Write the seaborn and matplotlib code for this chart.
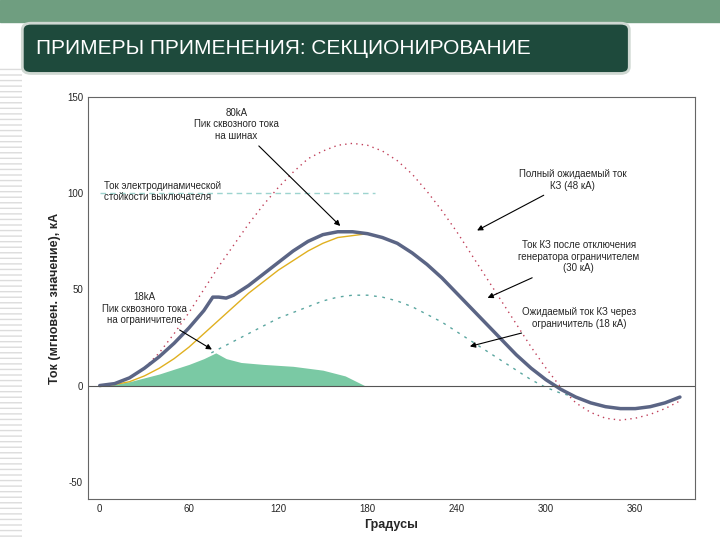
import numpy as np
import pandas as pd
import matplotlib.pyplot as plt
import seaborn as sns
from matplotlib.patches import FancyBboxPatch, Rectangle

# ---- data (degrees / kA) ----
deg = list(range(0, 400, 10))
full_prosp = [0, 1, 4, 9, 17, 27, 38, 50, 62, 73, 84, 94, 103, 111, 118, 122, 125, 126, 125, 122,
              117, 110, 101, 91, 80, 68, 56, 44, 32, 20, 9, -1, -9, -14, -17, -18, -17, -15, -12, -8]
lim_deg = [0, 10, 20, 30, 40, 50, 60, 70, 76, 80, 85, 90, 100, 110, 120, 130, 140, 150, 160, 170,
           180, 190, 200, 210, 220, 230, 240, 250, 260, 270, 280, 290, 300, 310, 320, 330, 340,
           350, 360, 370, 380, 390]
limited = [0, 1, 4, 9, 15, 22, 30, 39, 46, 46, 45.5, 47, 52, 58, 64, 70, 75, 78.5, 80, 80,
           79, 77, 74, 69, 63, 56, 48, 40, 32, 24, 16, 9, 3, -2, -6, -9, -11, -12, -12, -11, -9, -6]
yellow_deg = list(range(0, 190, 10))
yellow = [0, 0.5, 2, 5, 9, 14, 20, 27, 34, 41, 48, 54, 60, 65, 70, 74, 77, 78, 79]
teal_deg = [75, 90, 100, 110, 120, 130, 140, 150, 160, 170, 180, 190, 200, 210, 220, 230, 240,
            250, 260, 270, 280, 290, 300, 310, 320]
teal = [17, 23, 27, 31, 35, 38, 41, 44, 46, 47, 47, 46, 44, 41, 37, 33, 28, 23, 18, 13, 8, 3, -1, -4, -6]
green_deg = [5, 20, 40, 60, 70, 78, 85, 95, 110, 130, 150, 165, 178]
green = [0, 2, 6, 11, 14, 17, 14, 12, 11, 10, 8, 5, 0]
withstand = 100

sns.set_style("white")
plt.rcParams['font.family'] = ['Liberation Sans', 'DejaVu Sans']
plt.rcParams['axes.unicode_minus'] = False

fig = plt.figure(figsize=(7.2, 5.4), dpi=100)

# slide decoration
fig.patches.append(Rectangle((0, 0.96), 1, 0.04, transform=fig.transFigure, color='#6f9e80', zorder=0))
fig.patches.append(Rectangle((0, 0), 0.03, 0.88, transform=fig.transFigure, facecolor='white',
                             edgecolor='#dcdcdc', hatch='---', lw=0, zorder=0))
fig.patches.append(FancyBboxPatch((0.035, 0.868), 0.835, 0.085, boxstyle='round,pad=0.004,rounding_size=0.012',
                                  transform=fig.transFigure, facecolor='#1e4a3c', edgecolor='#cfd8d2',
                                  lw=2, zorder=1))
fig.text(0.05, 0.91, 'ПРИМЕРЫ ПРИМЕНЕНИЯ: СЕКЦИОНИРОВАНИЕ', color='white', fontsize=15,
         va='center', ha='left', zorder=2)

ax = fig.add_axes([0.122, 0.076, 0.843, 0.744])
ax.fill_between(green_deg, green, 0, color='#6cc39a', alpha=0.9, lw=0)
sns.lineplot(x=deg, y=full_prosp, ax=ax, color='#c0405a', lw=1, linestyle=(0, (1, 3)))
sns.lineplot(x=teal_deg, y=teal, ax=ax, color='#5aa6a0', lw=1, linestyle=(0, (2, 4)))
sns.lineplot(x=yellow_deg, y=yellow, ax=ax, color='#e0b020', lw=1)
sns.lineplot(x=lim_deg, y=limited, ax=ax, color='#5b6585', lw=2.5)
ax.plot([0, 185], [withstand, withstand], color='#9dd4cf', lw=1, ls=(0, (4, 3)))
ax.axhline(0, color='#555555', lw=0.8)

ax.set_xlim(-8, 400)
ax.set_ylim(-59, 150)
ax.set_xticks(range(0, 400, 60))
ax.set_yticks([-50, 0, 50, 100, 150])
ax.tick_params(labelsize=7, length=0)
ax.set_xlabel('Градусы', fontsize=9, fontweight='bold')
ax.set_ylabel('Ток (мгновен. значение), кА', fontsize=9, fontweight='bold')
for s in ax.spines.values():
    s.set_color('#666666')
    s.set_linewidth(0.8)

fs = 7
ap = dict(arrowstyle='-|>', color='black', lw=0.8, mutation_scale=8)
ax.annotate('80kA\nПик сквозного тока\nна шинах', xy=(163, 82), xytext=(92, 136),
            fontsize=fs, ha='center', va='center', arrowprops=ap)
ax.annotate('18kA\nПик сквозного тока\nна ограничителе', xy=(77, 18), xytext=(30, 40),
            fontsize=fs, ha='center', va='center', arrowprops=ap)
ax.text(3, 101, 'Ток электродинамической\nстойкости выключателя', fontsize=fs, va='center')
ax.annotate('Полный ожидаемый ток\nКЗ (48 кА)', xy=(252, 80), xytext=(318, 107),
            fontsize=fs, ha='center', va='center', arrowprops=ap)
ax.annotate('Ток КЗ после отключения\nгенератора ограничителем\n(30 кА)', xy=(259, 45), xytext=(322, 67),
            fontsize=fs, ha='center', va='center', arrowprops=ap)
ax.annotate('Ожидаемый ток КЗ через\nограничитель (18 кА)', xy=(247, 20), xytext=(322, 35),
            fontsize=fs, ha='center', va='center', arrowprops=ap)

fig.savefig('out.png', dpi=100)
